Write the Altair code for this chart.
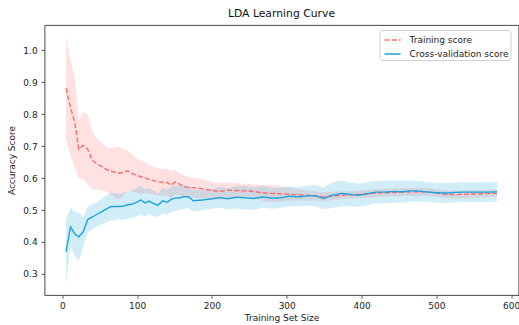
import altair as alt
import pandas as pd

# Training set sizes
sizes = [5, 11, 17, 22, 28, 34, 40, 46, 52, 58, 64, 70, 76, 81, 87, 93, 99, 105,
         111, 116, 122, 128, 134, 140, 146, 151, 157, 163, 169, 175, 186, 198, 210,
         221, 233, 245, 256, 268, 280, 291, 303, 315, 326, 338, 349, 361, 373, 384,
         396, 408, 419, 431, 443, 454, 466, 478, 489, 501, 513, 524, 536, 547, 559,
         570, 581]

train_mean = [0.881, 0.820, 0.770, 0.690, 0.702, 0.690, 0.655, 0.645, 0.637, 0.628,
              0.622, 0.618, 0.615, 0.617, 0.623, 0.615, 0.608, 0.604, 0.600, 0.596,
              0.592, 0.588, 0.587, 0.586, 0.578, 0.588, 0.580, 0.573, 0.570, 0.570,
              0.567, 0.562, 0.558, 0.562, 0.561, 0.560, 0.558, 0.553, 0.552, 0.551,
              0.549, 0.548, 0.546, 0.544, 0.541, 0.544, 0.546, 0.547, 0.549, 0.551,
              0.553, 0.554, 0.555, 0.556, 0.557, 0.557, 0.556, 0.553, 0.549, 0.548,
              0.549, 0.550, 0.551, 0.552, 0.552]

train_std = [0.160, 0.150, 0.140, 0.090, 0.105, 0.110, 0.090, 0.080, 0.075, 0.070,
             0.072, 0.078, 0.082, 0.075, 0.063, 0.058, 0.055, 0.052, 0.047, 0.044,
             0.043, 0.042, 0.042, 0.042, 0.043, 0.038, 0.035, 0.034, 0.033, 0.032,
             0.030, 0.028, 0.026, 0.025, 0.023, 0.022, 0.022, 0.025, 0.027, 0.025,
             0.020, 0.018, 0.016, 0.015, 0.014, 0.013, 0.012, 0.012, 0.012, 0.012,
             0.012, 0.012, 0.012, 0.012, 0.012, 0.012, 0.012, 0.012, 0.012, 0.012,
             0.012, 0.012, 0.012, 0.012, 0.012]

cv_mean = [0.369, 0.447, 0.424, 0.416, 0.432, 0.470, 0.478, 0.486, 0.494, 0.502,
           0.510, 0.511, 0.511, 0.512, 0.516, 0.518, 0.524, 0.531, 0.522, 0.528,
           0.520, 0.515, 0.529, 0.524, 0.534, 0.537, 0.538, 0.542, 0.541, 0.529,
           0.531, 0.534, 0.539, 0.535, 0.540, 0.538, 0.536, 0.541, 0.537, 0.538,
           0.543, 0.541, 0.544, 0.545, 0.536, 0.546, 0.552, 0.549, 0.546, 0.551,
           0.556, 0.556, 0.558, 0.557, 0.560, 0.559, 0.556, 0.554, 0.553, 0.555,
           0.556, 0.556, 0.556, 0.556, 0.557]

cv_std = [0.100, 0.060, 0.070, 0.076, 0.045, 0.040, 0.040, 0.038, 0.040, 0.042,
          0.042, 0.042, 0.040, 0.042, 0.042, 0.043, 0.044, 0.046, 0.042, 0.040,
          0.040, 0.036, 0.040, 0.040, 0.040, 0.040, 0.039, 0.037, 0.035, 0.034,
          0.032, 0.031, 0.032, 0.033, 0.035, 0.037, 0.035, 0.034, 0.033, 0.032,
          0.031, 0.030, 0.031, 0.033, 0.034, 0.040, 0.040, 0.037, 0.036, 0.036,
          0.035, 0.035, 0.035, 0.034, 0.033, 0.032, 0.031, 0.031, 0.031, 0.031,
          0.031, 0.031, 0.031, 0.031, 0.031]

series_names = ["Training score", "Cross-validation score"]
series_colors = ["#ff6b6b", "#1aa3dc"]

rows = []
for name, means, stds in [(series_names[0], train_mean, train_std),
                          (series_names[1], cv_mean, cv_std)]:
    for s, m, d in zip(sizes, means, stds):
        rows.append({"size": s, "mean": m, "std": d, "series": name})
df = pd.DataFrame(rows)

x_enc = alt.X("size:Q",
              scale=alt.Scale(domain=[-23.8, 609.8], nice=False, zero=False),
              axis=alt.Axis(values=[0, 100, 200, 300, 400, 500, 600],
                            title="Training Set Size"))
y_scale = alt.Scale(domain=[0.234, 1.079], nice=False, zero=False)
y_axis = alt.Axis(values=[0.3, 0.4, 0.5, 0.6, 0.7, 0.8, 0.9, 1.0], format=".1f",
                  title="Accuracy Score", labelPadding=4, titlePadding=6)

base = alt.Chart(df).transform_calculate(
    lo="datum.mean - datum.std", hi="datum.mean + datum.std")

band_layers = []
for name, col in zip(series_names, series_colors):
    band_layers.append(
        base.transform_filter(alt.datum.series == name)
        .mark_area(color=col, opacity=0.2)
        .encode(x=x_enc, y=alt.Y("lo:Q", scale=y_scale, axis=y_axis), y2="hi:Q")
    )

legend = alt.Legend(title=None, orient="none", legendX=335, legendY=5,
                    fillColor="white", strokeColor="#d0d0d0", cornerRadius=3,
                    padding=1, labelFontSize=9, labelFont="DejaVu Sans",
                    labelColor="#222", symbolSize=256, symbolStrokeWidth=1.4,
                    symbolOffset=3, labelOffset=8, rowPadding=-1, symbolType="stroke")

lines = base.mark_line(strokeWidth=1.4).encode(
    x=x_enc,
    y=alt.Y("mean:Q", scale=y_scale, axis=y_axis),
    color=alt.Color("series:N", scale=alt.Scale(domain=series_names, range=series_colors),
                    legend=legend),
    strokeDash=alt.StrokeDash("series:N",
                              scale=alt.Scale(domain=series_names, range=[[5, 2.2], [1, 0]]),
                              legend=legend),
)

chart = alt.layer(*band_layers, lines).properties(
    width=474, height=270,
    title=alt.TitleParams("LDA Learning Curve", fontSize=10.8, fontWeight="normal",
                          font="DejaVu Sans", color="#111", offset=6),
    autosize=alt.AutoSizeParams(type="none"),
    padding={"left": 44.5, "top": 25, "right": 0.5, "bottom": 30},
).configure_view(
    stroke="#333", strokeWidth=0.9
).configure_axis(
    labelFont="DejaVu Sans", titleFont="DejaVu Sans", labelFontSize=9, titleFontSize=9,
    titleFontWeight="normal", labelColor="#222", titleColor="#222",
    grid=False, domain=False, tickColor="#333", tickSize=3.3, tickWidth=0.8,
).configure_axisX(labelPadding=3, titlePadding=3)

chart.save("out.html", embed_options={"renderer": "svg", "actions": False})
